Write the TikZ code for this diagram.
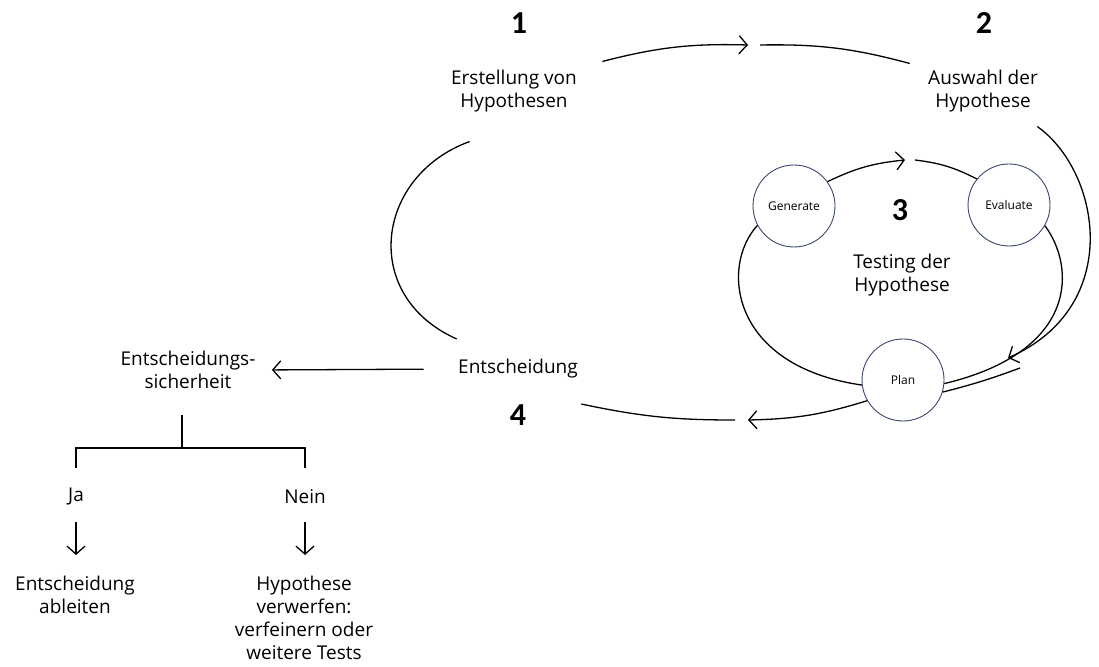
\documentclass[tikz,border=0pt]{standalone}
\usepackage{fontspec}
\setmainfont{Open Sans}
\newfontfamily\numfont{Carlito}
\usetikzlibrary{positioning,arrows.meta}
\definecolor{subblue}{RGB}{58,72,110}
\tikzset{>={Straight Barb[length=8pt,width=18pt]},
	lbl/.style={align=center, font=\fontsize{19}{23}\selectfont},
	num/.style={font=\numfont\bfseries\fontsize{32}{32}\selectfont},
	sub/.style={circle, draw=subblue, line width=0.9pt, minimum size=82pt, inner sep=0pt, font=\fontsize{12}{14}\selectfont},
	line/.style={line width=1.3pt}}

\begin{document}
\begin{tikzpicture}[x=1pt, y=1pt]
	\useasboundingbox (0,0) rectangle (1099,666);
	% outer cycle
	\node (H1) [lbl] at (514,575) {Erstellung von\\Hypothesen};
	\node (H2) [lbl] at (983,575) {Auswahl der\\Hypothese};
	\node (T) [lbl] at (902,391) {Testing der\\Hypothese};
	\node (E) [lbl] at (518,297) {Entscheidung};
	\node (n1) [num] at (519,643) {1};
	\node (n2) [num] at (984,643) {2};
	\node (n3) [num] at (900,456) {3};
	\node (n4) [num] at (518,251) {4};
	% inner cycle
	\node (gen) [sub] at (794,460) {Generate};
	\node (eva) [sub] at (1009,461) {Evaluate};
	\node (plan) [sub] at (903,286) {Plan};
	\coordinate (t12) at (748,621);
	\coordinate (t23) at (1008,308);
	\coordinate (t34) at (748,246);
	\coordinate (tin) at (905,506);
	\draw[line,->] ([shift={(22,5)}]H1.north east) to[bend left=8] (t12);
	\draw[line] ([xshift=12]t12) to[bend left=8] ([shift={(-15,3)}]H2.north west);
	\draw[line,->] ([shift={(-4,-11)}]H2.south east) .. controls (1100,495) and (1125,360) .. (t23);
	\draw[line] ([shift={(12,-10)}]t23) to[bend left=3] (plan.-17);
	\draw[line,->] (plan.210) to[bend left=8] (t34);
	\draw[line] ([xshift=-13]t34) to[bend left=6] ([shift={(0,-22)}]E.south east);
	\draw[line] ([shift={(22,-26)}]H1.south west) .. controls (375,490) and (360,370) .. ([shift={(2,17)}]E.north west);
	\draw[line,->] (gen.36) to[bend left=10] (tin);
	\draw[line] ([xshift=10]tin) to[bend left=10] (eva.141);
	\draw[line] (eva.-30) .. controls (1075,400) and (1080,315) .. (plan.-5);
	\draw[line] (gen.208) .. controls (720,400) and (730,300) .. (plan.187);
	% decision tree
	\node (S) [lbl] at (188,296) {Entscheidungs-\\sicherheit};
	\node (ja) [lbl] at (76,169) {Ja};
	\node (nein) [lbl] at (305,169) {Nein};
	\node (abl) [lbl] at (75,71) {Entscheidung\\ableiten};
	\node (verw) [lbl] at (304,48) {Hypothese\\verwerfen:\\verfeinern oder\\weitere Tests};
	\draw[line,->, shorten <=31pt, shorten >=13pt] (E.west) -- (S.east);
	\coordinate (br) at (182,218);
	\draw[line] (br) -- ++(0,33);
	\draw[line] (76,198) |- (br) -| (305,198);
	\draw[line,->] (76,144) -- (76,111);
	\draw[line,->] (305,144) -- (305,111);
\end{tikzpicture}
\end{document}
